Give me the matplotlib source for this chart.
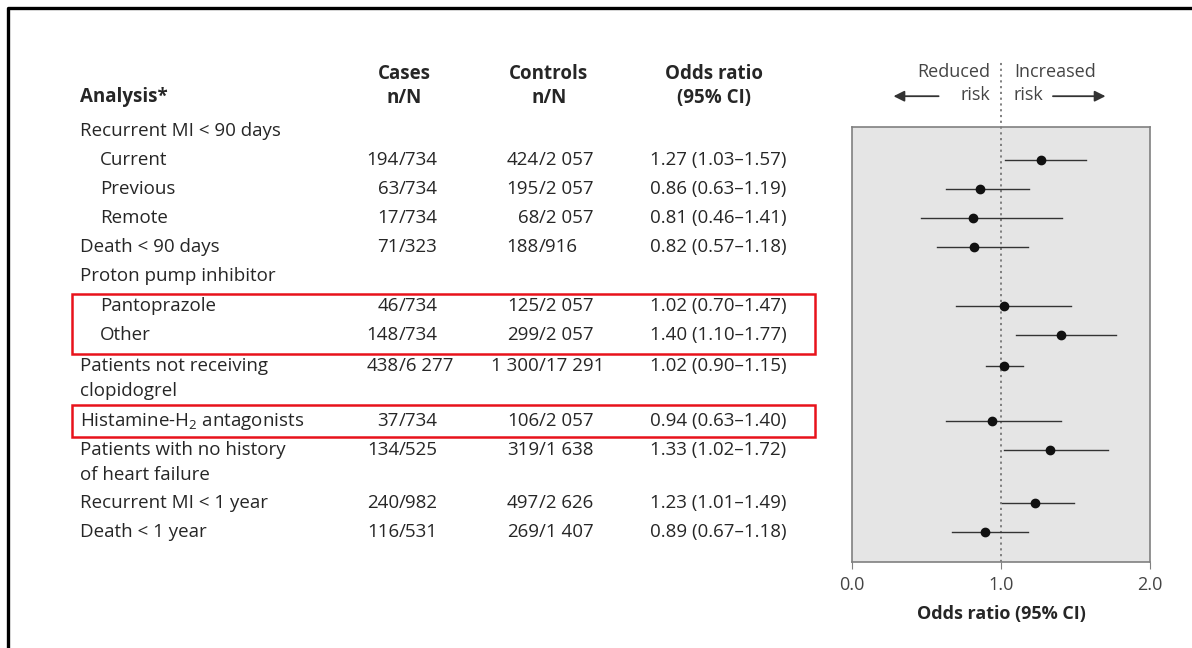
import matplotlib.pyplot as plt
from matplotlib.patches import Rectangle
from matplotlib.lines import Line2D

plt.rcParams['font.family'] = ['Open Sans', 'DejaVu Sans']
plt.rcParams['mathtext.fontset'] = 'custom'
plt.rcParams['mathtext.rm'] = 'Open Sans'

TXT = '#262626'

# table rows: label, indent, cases, controls, OR, lower, upper
labels = ['Recurrent MI < 90 days', 'Current', 'Previous', 'Remote', 'Death < 90 days',
          'Proton pump inhibitor', 'Pantoprazole', 'Other',
          'Patients not receiving\nclopidogrel', 'Histamine-H$_2$ antagonists',
          'Patients with no history\nof heart failure', 'Recurrent MI < 1 year', 'Death < 1 year']
indent = [0, 1, 1, 1, 0, 0, 1, 1, 0, 0, 0, 0, 0]
rows = [0, 1, 2, 3, 4, 5, 6.05, 7.05, 8.12, 10, 11, 12.83, 13.83]
cases = [None, '194/734', '63/734', '17/734', '71/323', None, '46/734', '148/734',
         '438/6 277', '37/734', '134/525', '240/982', '116/531']
controls = [None, '424/2 057', '195/2 057', '68/2 057', '188/916', None, '125/2 057', '299/2 057',
            '1 300/17 291', '106/2 057', '319/1 638', '497/2 626', '269/1 407']
odds = [None, 1.27, 0.86, 0.81, 0.82, None, 1.02, 1.40, 1.02, 0.94, 1.33, 1.23, 0.89]
lower = [None, 1.03, 0.63, 0.46, 0.57, None, 0.70, 1.10, 0.90, 0.63, 1.02, 1.01, 0.67]
upper = [None, 1.57, 1.19, 1.41, 1.18, None, 1.47, 1.77, 1.15, 1.40, 1.72, 1.49, 1.18]

W, H = 1192, 648
fig = plt.figure(figsize=(W / 100, H / 100), dpi=100)

ytop, ybot = -0.138, 14.862
tab = fig.add_axes([0.0, 1 - 562 / H, 1.0, 435 / H])
tab.set_xlim(0, W)
tab.set_ylim(ybot, ytop)
tab.axis('off')

ax = fig.add_axes([852 / W, 1 - 562 / H, 298 / W, 435 / H])
ax.set_xlim(0, 2)
ax.set_ylim(ybot, ytop)
ax.set_facecolor('#e5e5e5')
for s in ax.spines.values():
    s.set_color('#808080')
    s.set_linewidth(1.2)
ax.set_yticks([])
ax.set_xticks([0, 1, 2])
ax.set_xticklabels(['0.0', '1.0', '2.0'])
ax.tick_params(axis='x', length=5, color='#808080', labelsize=13, labelcolor='#444444', pad=5)
ax.set_xlabel('Odds ratio (95% CI)', fontsize=13, fontweight='bold', color=TXT, labelpad=8)

fs = 13.5
# column headers
tab.text(80, -1.17, 'Analysis*', fontsize=fs, fontweight='bold', color=TXT, va='center')
for x, h in [(404, 'Cases\nn/N'), (549, 'Controls\nn/N'), (714, 'Odds ratio\n(95% CI)')]:
    tab.text(x, -1.55, h, fontsize=fs, fontweight='bold', color=TXT, ha='center', va='center',
             linespacing=1.25)

for i, lab in enumerate(labels):
    y = rows[i]
    for k, line in enumerate(lab.split('\n')):
        tab.text(80 + 20 * indent[i], y + 0.86 * k, line, fontsize=fs, color=TXT, va='center')
    if cases[i] is None:
        continue
    # numbers lined up on the slash
    n, d = cases[i].split('/')
    tab.text(399, y, n, fontsize=fs, color=TXT, va='center', ha='right')
    tab.text(399, y, '/' + d, fontsize=fs, color=TXT, va='center', ha='left')
    n, d = controls[i].split('/')
    tab.text(539, y, n, fontsize=fs, color=TXT, va='center', ha='right')
    tab.text(539, y, '/' + d, fontsize=fs, color=TXT, va='center', ha='left')
    tab.text(650, y, f'{odds[i]:.2f} ({lower[i]:.2f}\u2013{upper[i]:.2f})', fontsize=fs,
             color=TXT, va='center', ha='left')

# highlight boxes
for y0, y1 in [(5.62, 7.69), (9.45, 10.55)]:
    tab.add_patch(Rectangle((72, y0), 743, y1 - y0, fill=False, edgecolor='#e8121b', linewidth=1.8,
                            clip_on=False))

# reference line at OR = 1
ax.plot([1, 1], [ybot, -2.38], ls=(0, (1.2, 2)), color='#777777', lw=1.3, clip_on=False, zorder=1)

for i in range(len(rows)):
    if odds[i] is None:
        continue
    ax.plot([lower[i], upper[i]], [rows[i], rows[i]], color='#333333', lw=1, zorder=2)
    ax.plot(odds[i], rows[i], 'o', color='#111111', ms=6, zorder=3)

# direction labels above the panel
dfs = 13
ax.text(0.926, -2.03, 'Reduced', fontsize=dfs, color='#444444', ha='right', va='center', clip_on=False)
ax.text(0.926, -1.24, 'risk', fontsize=dfs, color='#444444', ha='right', va='center', clip_on=False)
ax.text(1.087, -2.03, 'Increased', fontsize=dfs, color='#444444', ha='left', va='center', clip_on=False)
ax.text(1.087, -1.24, 'risk', fontsize=dfs, color='#444444', ha='left', va='center', clip_on=False)
ax.annotate('', xy=(0.26, -1.2), xytext=(0.6, -1.2), annotation_clip=False,
            arrowprops=dict(arrowstyle='-|>', color='#333333', lw=1.3, mutation_scale=16))
ax.annotate('', xy=(1.72, -1.2), xytext=(1.33, -1.2), annotation_clip=False,
            arrowprops=dict(arrowstyle='-|>', color='#333333', lw=1.3, mutation_scale=16))

# frame on top and left edges
fig.add_artist(Line2D([8 / W, 8 / W, 1], [0, 1 - 8 / H, 1 - 8 / H], color='black', lw=2.4,
                      transform=fig.transFigure))

fig.savefig('out.png', dpi=100)
